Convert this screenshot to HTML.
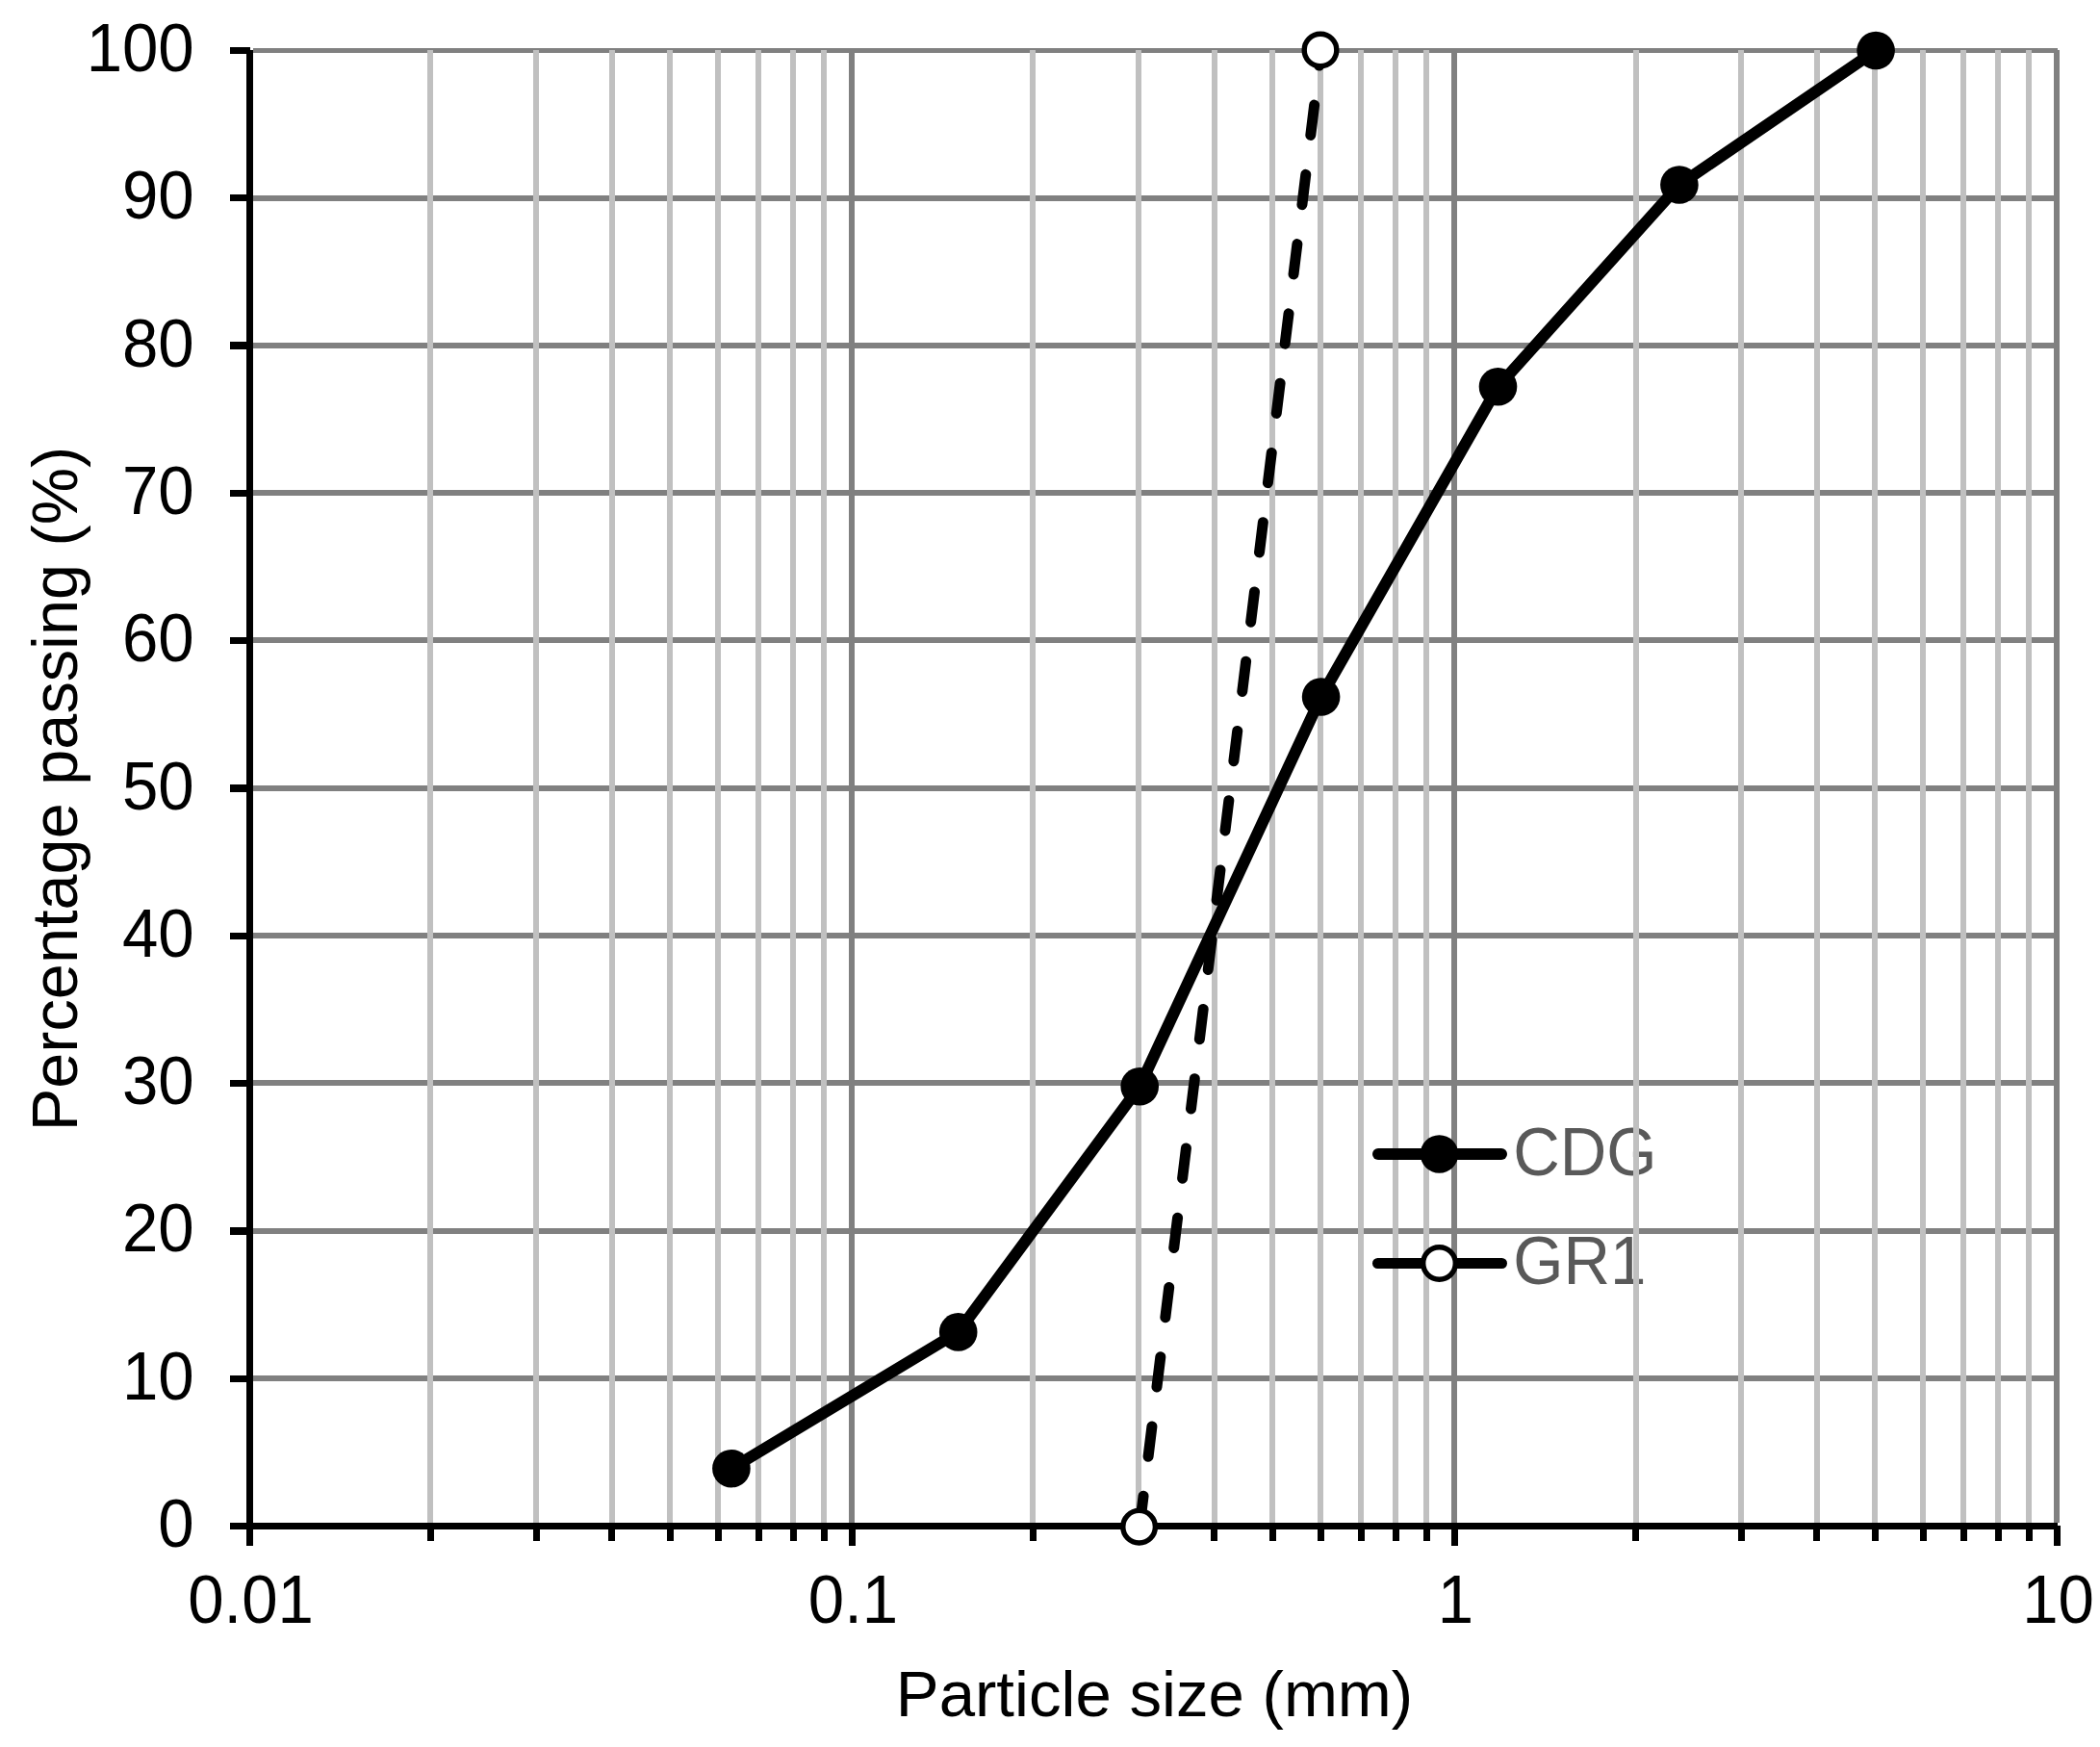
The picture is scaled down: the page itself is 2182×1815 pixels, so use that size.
<!DOCTYPE html>
<html lang="en"><head><meta charset="utf-8"><title>Particle size distribution</title>
<style>
html,body{margin:0;padding:0;background:#fff;}
body{width:2182px;height:1815px;overflow:hidden;}
svg{display:block;}
text{font-family:"Liberation Sans",Arial,Helvetica,sans-serif;font-size:66.67px;fill:#000;}
.lg text{fill:#595959;}
</style></head><body>
<svg width="2182" height="1815" viewBox="0 0 2182 1815">
<rect width="2182" height="1815" fill="#fff"/>
<g class="lg">
<text transform="translate(1572.2,1221) scale(1.0074,1.05)" text-anchor="start">CDG</text>
<text transform="translate(1572.2,1333.7) scale(1.0074,1.05)" text-anchor="start">GR1</text>
</g>
<g fill="#808080" shape-rendering="crispEdges">
<rect x="263" y="1429" width="1875" height="6"/>
<rect x="263" y="1276" width="1875" height="6"/>
<rect x="263" y="1122" width="1875" height="6"/>
<rect x="263" y="969" width="1875" height="6"/>
<rect x="263" y="816" width="1875" height="6"/>
<rect x="263" y="662" width="1875" height="6"/>
<rect x="263" y="509" width="1875" height="6"/>
<rect x="263" y="356" width="1875" height="6"/>
<rect x="263" y="203" width="1875" height="6"/>
<rect x="263" y="50" width="1875" height="5"/>
<rect x="882" y="52" width="6" height="1530"/>
<rect x="1508" y="52" width="6" height="1530"/>
<rect x="2134" y="52" width="6" height="1530"/>
</g>
<g fill="#c0c0c0" shape-rendering="crispEdges">
<rect x="444" y="52" width="6" height="1530"/>
<rect x="554" y="52" width="6" height="1530"/>
<rect x="633" y="52" width="6" height="1530"/>
<rect x="693" y="52" width="6" height="1530"/>
<rect x="743" y="52" width="6" height="1530"/>
<rect x="785" y="52" width="6" height="1530"/>
<rect x="821" y="52" width="6" height="1530"/>
<rect x="853" y="52" width="6" height="1530"/>
<rect x="1070" y="52" width="6" height="1530"/>
<rect x="1180" y="52" width="6" height="1530"/>
<rect x="1259" y="52" width="6" height="1530"/>
<rect x="1319" y="52" width="6" height="1530"/>
<rect x="1369" y="52" width="6" height="1530"/>
<rect x="1411" y="52" width="6" height="1530"/>
<rect x="1447" y="52" width="6" height="1530"/>
<rect x="1479" y="52" width="6" height="1530"/>
<rect x="1697" y="52" width="6" height="1530"/>
<rect x="1806" y="52" width="6" height="1530"/>
<rect x="1885" y="52" width="6" height="1530"/>
<rect x="1945" y="52" width="6" height="1530"/>
<rect x="1995" y="52" width="6" height="1530"/>
<rect x="2037" y="52" width="6" height="1530"/>
<rect x="2073" y="52" width="6" height="1530"/>
<rect x="2105" y="52" width="6" height="1530"/>
</g>
<g fill="#000" shape-rendering="crispEdges">
<rect x="256" y="52" width="7" height="1554"/>
<rect x="239" y="1582" width="1899" height="7"/>
<rect x="239" y="1429" width="21" height="7"/>
<rect x="239" y="1275" width="21" height="8"/>
<rect x="239" y="1122" width="21" height="7"/>
<rect x="239" y="969" width="21" height="7"/>
<rect x="239" y="815" width="21" height="8"/>
<rect x="239" y="662" width="21" height="7"/>
<rect x="239" y="509" width="21" height="7"/>
<rect x="239" y="355" width="21" height="8"/>
<rect x="239" y="202" width="21" height="7"/>
<rect x="239" y="49" width="21" height="7"/>
<rect x="882" y="1585" width="7" height="21"/>
<rect x="1508" y="1585" width="7" height="21"/>
<rect x="2134" y="1585" width="7" height="21"/>
<rect x="444" y="1585" width="7" height="16"/>
<rect x="554" y="1585" width="7" height="16"/>
<rect x="632" y="1585" width="7" height="16"/>
<rect x="693" y="1585" width="7" height="16"/>
<rect x="743" y="1585" width="7" height="16"/>
<rect x="785" y="1585" width="7" height="16"/>
<rect x="821" y="1585" width="7" height="16"/>
<rect x="853" y="1585" width="7" height="16"/>
<rect x="1070" y="1585" width="7" height="16"/>
<rect x="1180" y="1585" width="7" height="16"/>
<rect x="1258" y="1585" width="7" height="16"/>
<rect x="1319" y="1585" width="7" height="16"/>
<rect x="1369" y="1585" width="7" height="16"/>
<rect x="1411" y="1585" width="7" height="16"/>
<rect x="1447" y="1585" width="7" height="16"/>
<rect x="1479" y="1585" width="7" height="16"/>
<rect x="1696" y="1585" width="7" height="16"/>
<rect x="1806" y="1585" width="7" height="16"/>
<rect x="1884" y="1585" width="7" height="16"/>
<rect x="1945" y="1585" width="7" height="16"/>
<rect x="1995" y="1585" width="7" height="16"/>
<rect x="2037" y="1585" width="7" height="16"/>
<rect x="2073" y="1585" width="7" height="16"/>
<rect x="2105" y="1585" width="7" height="16"/>
</g>
<text transform="translate(201.7,1607.0) scale(1.0074,1.05)" text-anchor="end">0</text>
<text transform="translate(201.7,1453.7) scale(1.0074,1.05)" text-anchor="end">10</text>
<text transform="translate(201.7,1300.4) scale(1.0074,1.05)" text-anchor="end">20</text>
<text transform="translate(201.7,1147.1) scale(1.0074,1.05)" text-anchor="end">30</text>
<text transform="translate(201.7,993.8) scale(1.0074,1.05)" text-anchor="end">40</text>
<text transform="translate(201.7,840.5) scale(1.0074,1.05)" text-anchor="end">50</text>
<text transform="translate(201.7,687.2) scale(1.0074,1.05)" text-anchor="end">60</text>
<text transform="translate(201.7,533.9) scale(1.0074,1.05)" text-anchor="end">70</text>
<text transform="translate(201.7,380.6) scale(1.0074,1.05)" text-anchor="end">80</text>
<text transform="translate(201.7,227.3) scale(1.0074,1.05)" text-anchor="end">90</text>
<text transform="translate(201.7,74.0) scale(1.0074,1.05)" text-anchor="end">100</text>
<text transform="translate(260.5,1686) scale(1.0074,1.05)" text-anchor="middle">0.01</text>
<text transform="translate(886.5,1686) scale(1.0074,1.05)" text-anchor="middle">0.1</text>
<text transform="translate(1512.5,1686) scale(1.0074,1.05)" text-anchor="middle">1</text>
<text transform="translate(2138.5,1686) scale(1.0074,1.05)" text-anchor="middle">10</text>
<text transform="translate(1199.5,1783) scale(1.0074,1.01)" text-anchor="middle">Particle size (mm)</text>
<text transform="translate(80,819.5) rotate(-90) scale(1,1.01)" text-anchor="middle">Percentage passing (%)</text>
<polyline points="759.9,1525.7 995.7,1383.9 1184.2,1128.7 1372.6,724.0 1556.5,401.7 1744.9,192.0 1949.1,52.5" fill="none" stroke="#000" stroke-width="12" stroke-linejoin="round" stroke-linecap="round"/>
<line x1="1184.2" y1="1585.5" x2="1372.6" y2="52.5" stroke="#000" stroke-width="11" stroke-linecap="round" stroke-dasharray="31.5 41.3"/>
<circle cx="759.9" cy="1525.7" r="19.8" fill="#000"/>
<circle cx="995.7" cy="1383.9" r="19.8" fill="#000"/>
<circle cx="1184.2" cy="1128.7" r="19.8" fill="#000"/>
<circle cx="1372.6" cy="724.0" r="19.8" fill="#000"/>
<circle cx="1556.5" cy="401.7" r="19.8" fill="#000"/>
<circle cx="1744.9" cy="192.0" r="19.8" fill="#000"/>
<circle cx="1949.1" cy="52.5" r="19.8" fill="#000"/>
<circle cx="1183.6" cy="1586.2" r="16.8" fill="#fff" stroke="#000" stroke-width="5.4"/>
<circle cx="1372.0" cy="52.0" r="16.8" fill="#fff" stroke="#000" stroke-width="5.4"/>
<line x1="1432" x2="1560" y1="1199" y2="1199" stroke="#000" stroke-width="12" stroke-linecap="round"/>
<circle cx="1495.5" cy="1199" r="19.8" fill="#000"/>
<line x1="1431.5" x2="1560.5" y1="1312.5" y2="1312.5" stroke="#000" stroke-width="11" stroke-linecap="round"/>
<circle cx="1495.5" cy="1312.5" r="16.8" fill="#fff" stroke="#000" stroke-width="5.4"/>
</svg></body></html>
